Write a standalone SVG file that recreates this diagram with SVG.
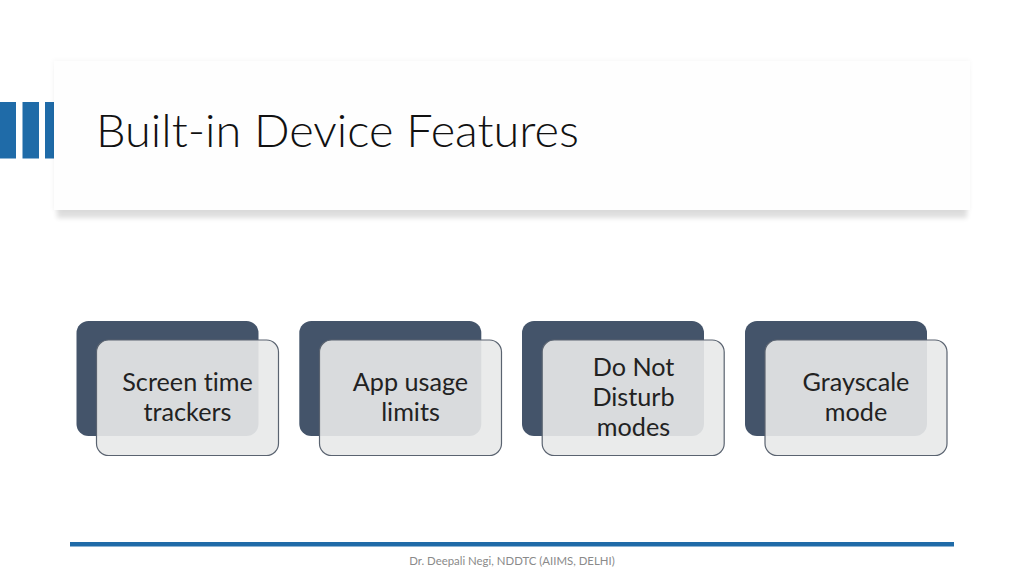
<svg xmlns="http://www.w3.org/2000/svg" width="1024" height="576" viewBox="0 0 1024 576">
<style>
text{font-variant-ligatures:none}
.t{font-family:Lato,"Liberation Sans",sans-serif;font-size:25.200px;fill:#222;text-anchor:middle}
.back{fill:#44546a}
.front{fill:#e8e9e9;fill-opacity:.91;stroke:#5a6370;stroke-width:1.2}
.bar{fill:#1f6ba8}
</style>
<defs>
<filter id="s" x="-3%" y="-10%" width="106%" height="125%"><feGaussianBlur stdDeviation="2.5"/></filter>
</defs>
<rect width="1024" height="576" fill="#fff"/>
<g id="bars"><rect class="bar" x="0" y="102" width="16" height="56.500"/><rect class="bar" x="22.500" y="102" width="16.500" height="56.500"/><rect class="bar" x="45" y="102" width="9" height="56.500"/></g>
<g id="header">
<rect x="57" y="67" width="910" height="151" fill="#000" opacity=".13" filter="url(#s)"/>
<rect x="53" y="60" width="917" height="150" fill="#000" opacity=".03" filter="url(#s)"/>
<rect x="54" y="61" width="916" height="149" fill="#fefefe"/>
<text x="96" y="147" font-family="Lato,'Liberation Sans',sans-serif" font-weight="300" font-size="46" fill="#111" textLength="483" lengthAdjust="spacingAndGlyphs">Built-in Device Features</text>
</g>
<g id="node1"><rect class="back" x="76.500" y="321" width="182" height="115" rx="12"/><rect class="front" x="96.500" y="340" width="182" height="115.500" rx="12"/><text class="t" x="187.500" y="391">Screen time</text><text class="t" x="187.500" y="421">trackers</text></g>
<g id="node2"><rect class="back" x="299.300" y="321" width="182" height="115" rx="12"/><rect class="front" x="319.500" y="340" width="182" height="115.500" rx="12"/><text class="t" x="410.500" y="391">App usage</text><text class="t" x="410.500" y="421">limits</text></g>
<g id="node3"><rect class="back" x="522" y="321" width="182" height="115" rx="12"/><rect class="front" x="542.200" y="340" width="182" height="115.500" rx="12"/><text class="t" x="633.500" y="376">Do Not</text><text class="t" x="633.500" y="406">Disturb</text><text class="t" x="633.500" y="436">modes</text></g>
<g id="node4"><rect class="back" x="745" y="321" width="182" height="115" rx="12"/><rect class="front" x="765" y="340" width="182" height="115.500" rx="12"/><text class="t" x="856" y="391">Grayscale</text><text class="t" x="856" y="421">mode</text></g>
<g id="connectors"/>
<rect id="rule" x="70" y="542" width="884" height="4.500" fill="#1f6ba8"/>
<text id="footer" x="512" y="565" font-family="Lato,'Liberation Sans',sans-serif" font-size="11.400" fill="#8a8a8a" text-anchor="middle">Dr. Deepali Negi, NDDTC (AIIMS, DELHI)</text>
</svg>
